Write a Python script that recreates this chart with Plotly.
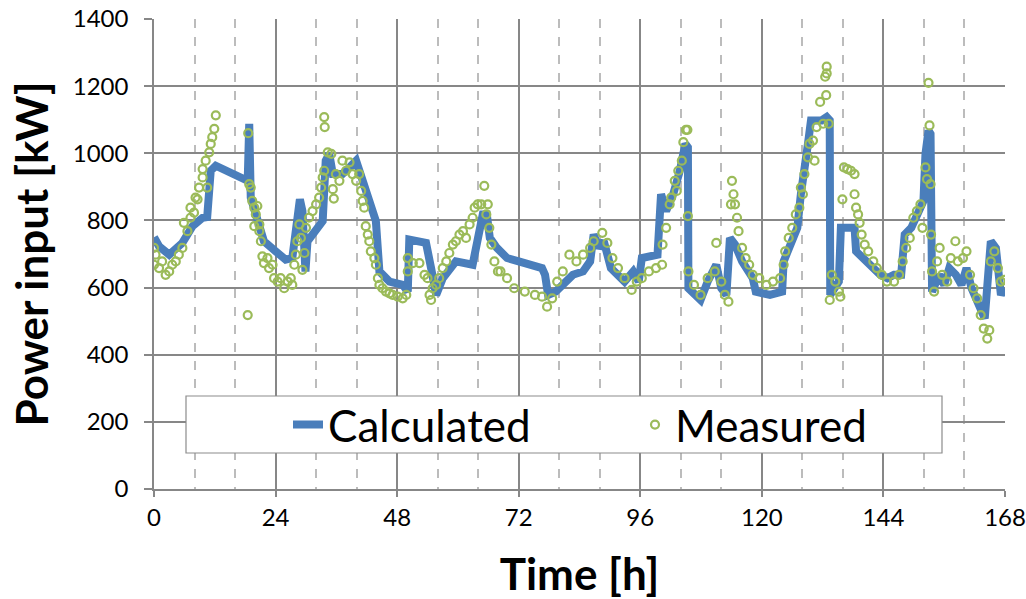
import plotly.graph_objects as go

# Calculated power input (line)
calc_hours = [0, 1.0, 3.0, 5.6, 7.6, 9.6, 10.5, 11.2, 12.2, 18.5, 18.8, 19.1, 20.1, 21.7, 24.0, 26.0,
              27.3, 28.0, 28.8, 29.3, 29.9, 30.3, 32.0, 33.3, 33.9, 34.6, 35.3, 37.2, 38.6, 39.9, 41.2,
              42.5, 43.8, 44.5, 46.5, 49.1, 50.1, 50.4, 53.7, 54.7, 55.7, 57.0, 59.6, 62.9, 63.9, 64.9,
              65.7, 66.3, 67.7, 69.7, 72.0, 74.5, 76.6, 77.2, 77.8, 79.3, 81.3, 82.7, 84.7, 86.1, 86.8,
              87.8, 88.8, 90.2, 92.9, 94.6, 95.7, 96.3, 99.4, 100.1, 101.1, 102.5, 103.8, 104.9, 105.4,
              105.5, 107.9, 109.3, 111.0, 112.0, 113.0, 113.7, 114.7, 116.1, 118.2, 118.8, 121.6, 124.0,
              124.3, 125.7, 127.0, 127.7, 128.4, 129.1, 129.7, 131.8, 132.8, 133.4, 133.5, 135.2, 135.6,
              138.3, 138.6, 140.7, 143.4, 144.8, 146.1, 147.5, 148.2, 149.5, 150.9, 151.9, 152.3, 152.9,
              153.3, 153.6, 155.0, 156.0, 157.0, 158.3, 159.4, 160.4, 161.4, 162.5, 164.0, 165.2, 166.2,
              167.2, 167.9]
calc_kw = [750, 723, 698, 733, 783, 808, 810, 948, 963, 918, 1088, 868, 818, 738, 708, 683,
           688, 768, 863, 828, 648, 738, 768, 798, 978, 998, 938, 938, 958, 978, 918,
           858, 798, 648, 618, 608, 588, 743, 733, 658, 578, 628, 678, 668, 758, 818,
           818, 748, 718, 688, 678, 668, 658, 638, 578, 588, 618, 638, 648, 678, 758,
           718, 738, 658, 618, 648, 618, 688, 698, 878, 828, 878, 948, 1028, 1018,
           598, 563, 618, 668, 598, 578, 748, 728, 678, 628, 588, 578, 588,
           678, 738, 778, 878, 978, 1028, 1098, 1098, 1108, 1098, 578, 618, 778,
           778, 708, 678, 638, 628, 638, 638, 758, 778, 828, 858, 998, 1068,
           1058, 588, 638, 608, 658, 638, 608, 658, 598, 558, 508, 738, 718,
           578, 598]

# Measured power input (points)
meas_hours = [0.0, 0.0, 0.3, 1.0, 1.6, 2.3, 3.0, 3.6, 4.3, 4.9, 5.6, 5.9, 6.6, 7.2, 7.2, 7.9, 8.2,
              8.6, 8.9, 9.6, 9.6, 10.2, 10.5, 10.9, 11.2, 11.5, 11.9, 12.2,
              18.5, 18.6, 18.8, 19.1, 19.4, 19.8, 19.8, 20.1, 20.4, 20.8, 20.8, 21.1, 21.4, 21.7,
              22.4, 22.7, 23.4, 23.7, 24.4, 25.0, 25.7, 26.4, 27.0, 27.3, 27.7, 28.0, 28.3, 28.7,
              29.0, 29.3, 29.7, 30.0, 30.6, 31.3, 32.0, 32.6, 33.0, 33.3, 33.6, 33.6, 33.7, 34.3,
              35.0, 35.3, 35.5, 35.9, 36.6, 37.2, 37.9, 38.6, 39.2, 39.9, 40.5, 40.9, 41.2, 41.5,
              41.8, 42.2, 42.5, 42.8, 43.5, 43.8, 44.2, 44.5, 45.1, 45.8, 46.5, 47.1, 48.1, 49.1,
              49.8, 50.1, 50.1, 51.1, 52.4, 53.4, 54.0, 54.4, 54.7, 55.0, 55.7, 56.3, 57.0, 57.7,
              58.3, 59.0, 59.6, 60.3, 61.0, 61.6, 62.3, 62.9, 63.3, 63.9, 64.6, 65.2, 65.6, 65.9,
              66.2, 66.6, 67.2, 67.9, 68.4, 69.7, 71.1, 73.2, 75.2, 76.6, 77.6, 78.6, 79.6, 80.7,
              82.0, 83.4, 84.7, 86.1, 86.8, 88.5, 89.5, 90.5, 91.6, 92.9, 94.3, 95.3, 96.3, 97.7,
              99.1, 100.3, 100.4, 101.1, 101.8, 102.1, 102.8, 103.2, 103.5, 104.2, 104.5, 105.0,
              105.3, 105.4, 105.5, 106.6, 107.9, 109.3, 110.7, 111.0, 112.0, 112.7, 113.4, 113.9,
              114.1, 114.4, 114.7, 115.1, 115.4, 116.1, 116.8, 117.5, 118.2, 119.5, 120.9, 122.2,
              123.6, 124.3, 124.6, 125.3, 126.0, 126.7, 127.4, 127.7, 128.1, 128.4, 129.1, 129.4,
              130.1, 130.4, 130.8, 131.5, 132.1, 132.5, 132.7, 132.8, 132.8, 133.2, 133.4, 133.8,
              134.5, 135.2, 135.5, 135.9, 136.2, 136.9, 137.6, 138.3, 138.3, 138.6, 139.0, 139.3,
              139.7, 140.3, 141.0, 142.0, 142.7, 143.7, 144.7, 146.1, 147.1, 147.8, 148.5, 149.2,
              149.9, 150.6, 151.3, 151.7, 152.3, 152.6, 152.9, 153.1, 153.3, 153.4, 153.6, 154.0,
              154.6, 155.1, 155.6, 156.6, 157.3, 158.2, 158.7, 159.7, 160.4, 161.1, 161.8, 162.5,
              163.2, 163.8, 164.5, 164.9, 165.2, 165.9, 166.6, 167.2, 167.9]
meas_kw = [718, 668, 698, 658, 678, 638, 648, 668, 678, 698, 718, 793, 768, 808, 838, 823, 868,
           863, 898, 928, 953, 978, 898, 1003, 1028, 1048, 1073, 1113,
           518, 1060, 908, 898, 858, 838, 783, 818, 843, 788, 768, 738, 693, 673,
           688, 658, 668, 628, 618, 628, 598, 618, 628, 608, 668, 698, 738, 788,
           748, 653, 703, 778, 808, 828, 848, 868, 898, 928, 1108, 948, 1078, 1003,
           998, 893, 865, 938, 918, 978, 948, 973, 938, 918, 938, 888, 858, 838,
           783, 758, 738, 708, 688, 668, 628, 608, 598, 588, 583, 578, 573, 568,
           578, 688, 648, 673, 673, 638, 628, 578, 563, 598, 608, 628, 658, 678,
           703, 728, 738, 758, 768, 748, 788, 808, 838, 848, 848, 903, 818, 848,
           778, 728, 678, 648, 648, 628, 598, 588, 578, 573, 543, 568, 618, 648,
           698, 678, 698, 718, 738, 763, 733, 688, 658, 628, 593, 618, 628, 648,
           658, 668, 728, 778, 848, 868, 918, 888, 948, 978, 1033, 1070,
           1070, 813, 648, 608, 578, 628, 648, 733, 618, 578, 558, 848,
           918, 878, 848, 808, 768, 718, 688, 668, 638, 628, 608, 618,
           628, 668, 708, 748, 778, 818, 838, 898, 878, 938, 988, 1028,
           1038, 978, 1078, 1153, 1088, 1228, 1173, 1258, 1238, 1088, 563, 638,
           618, 588, 573, 863, 958, 953, 948, 938, 878, 838, 818, 793,
           758, 728, 708, 678, 658, 638, 618, 618, 638, 678, 718, 748,
           808, 828, 848, 778, 958, 923, 1210, 1083, 908, 758, 648, 588,
           678, 718, 638, 618, 688, 738, 678, 688, 708, 638, 598, 568,
           518, 478, 448, 473, 678, 708, 658, 618, 623]

x_ticks = [0, 24, 48, 72, 96, 120, 144, 168]

W, H = 1026, 599
L, R, T, B = 154, 21, 19, 110
pw, ph = W - L - R, H - T - B

def px(xp):
    return (xp - L) / pw

def py(yp):
    return (H - B - yp) / ph

GRID = "#878787"
font_family = "Lato"
TICK_SIZE = 24

fig = go.Figure()
fig.add_trace(go.Scatter(
    x=calc_hours, y=calc_kw, mode="lines", name="Calculated",
    line=dict(color="#4a7ebb", width=8), legend="legend",
))
fig.add_trace(go.Scatter(
    x=meas_hours, y=meas_kw, mode="markers", name="Measured",
    marker=dict(symbol="circle-open", size=8, color="#9bbb59", line=dict(width=2.2, color="#9bbb59")),
    legend="legend2",
))

# legend box
fig.add_shape(type="rect", xref="paper", yref="paper",
              x0=px(186), x1=px(942), y0=py(453), y1=py(396),
              fillcolor="white", line=dict(color="#8c8c8c", width=1.2), layer="above")

leg_common = dict(
    orientation="h", xanchor="left", yanchor="middle",
    bgcolor="rgba(0,0,0,0)", borderwidth=0,
    font=dict(family=font_family, size=44, color="black"),
)

fig.update_layout(
    width=W, height=H,
    margin=dict(l=L, r=R, t=T, b=B, autoexpand=False),
    paper_bgcolor="white", plot_bgcolor="white",
    font=dict(family=font_family, color="black", size=TICK_SIZE),
    showlegend=True,
    legend=dict(x=px(288), y=py(425), **leg_common),
    legend2=dict(x=px(635), y=py(425), **leg_common),
    xaxis=dict(
        range=[0, 168], tickvals=x_ticks, ticktext=[str(v) for v in x_ticks],
        showgrid=True, gridcolor=GRID, gridwidth=1.5,
        showline=True, linecolor=GRID, linewidth=1.5,
        ticks="outside", ticklen=6, tickcolor=GRID, tickwidth=1.5,
        ticklabeloverflow="allow",
        automargin=False,
        minor=dict(dtick=8, tick0=0, showgrid=True, gridcolor="#bcbcbc", griddash="dash", gridwidth=1.5,
                   ticks=""),
        zeroline=False,
        title=dict(text="<b>Time [h]</b>", font=dict(family=font_family, size=44), standoff=30),
        tickfont=dict(size=TICK_SIZE),
    ),
    yaxis=dict(
        range=[0, 1400], dtick=200, tick0=0,
        showgrid=True, gridcolor=GRID, gridwidth=1.5,
        showline=True, linecolor=GRID, linewidth=1.5,
        ticks="outside", ticklen=8, tickcolor=GRID, tickwidth=1.5,
        ticklabelstandoff=11,
        automargin=False,
        zeroline=False,
        title=dict(text="<b>Power input [kW]</b>", font=dict(family=font_family, size=44), standoff=10),
        tickfont=dict(size=TICK_SIZE),
    ),
)

fig.write_html("out.html")
